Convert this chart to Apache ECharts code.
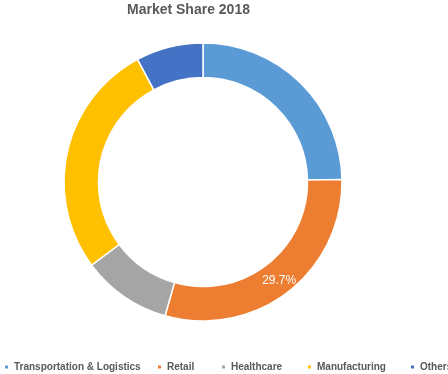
<!DOCTYPE html>
<html><head><meta charset="utf-8">
<script src="https://cdn.jsdelivr.net/npm/echarts@6/dist/echarts.min.js"></script>
<style>html,body{margin:0;padding:0;background:#fff}#c{width:448px;height:374px}</style>
</head><body><div id="c"></div>
<script>
const categories = ["Transportation & Logistics", "Retail", "Healthcare", "Manufacturing", "Others"];
const shares = [24.7, 29.7, 10.4, 27.4, 7.8];
const colors = ["#5B9BD5", "#ED7D31", "#A5A5A5", "#FFC000", "#4472C4"];
const labelled = ["Retail"];
const legendLeft = [3, 156, 220, 306, 409];

const chart = echarts.init(document.getElementById('c'));
const legends = categories.map((name, i) => ({
  data: [name],
  left: legendLeft[i],
  top: 362,
  padding: 0,
  orient: 'horizontal',
  itemWidth: 5, itemHeight: 5,
  icon: 'rect',
  selectedMode: false,
  textStyle: {color: '#595959', fontSize: 10, fontWeight: 'bold', fontFamily: 'Liberation Sans'}
}));
chart.setOption({
  animation: false,
  color: colors,
  title: {
    text: 'Market Share 2018', left: 127, top: 3, padding: 0,
    textStyle: {color: '#595959', fontSize: 14, fontWeight: 'bold', fontFamily: 'Liberation Sans'}
  },
  legend: legends,
  series: [{
    type: 'pie',
    center: [203, 182],
    radius: [104.5, 139],
    startAngle: 90,
    clockwise: true,
    avoidLabelOverlap: false,
    itemStyle: {borderColor: '#fff', borderWidth: 1.5},
    label: {show: false},
    labelLine: {show: false},
    data: categories.map((name, i) => ({
      name: name,
      value: shares[i],
      label: labelled.includes(name) ? {
        show: true, position: 'inside', formatter: '{c}%',
        color: '#fff', fontSize: 12, fontFamily: 'Liberation Sans'
      } : {show: false}
    }))
  }]
});
</script></body></html>
